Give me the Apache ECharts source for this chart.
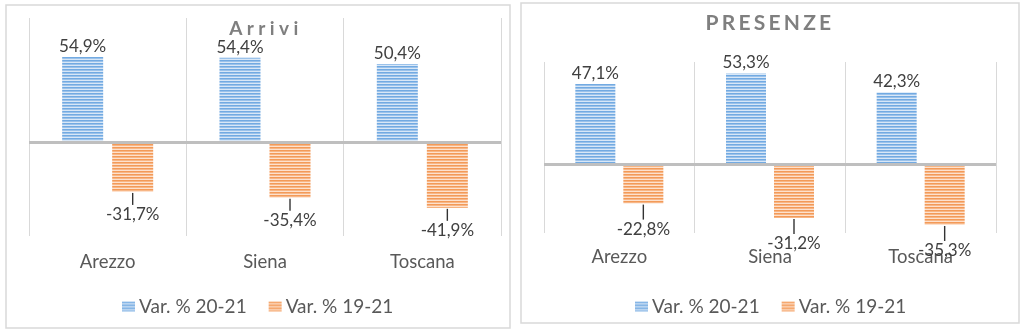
<!DOCTYPE html>
<html>
<head>
<meta charset="utf-8">
<script src="https://cdn.jsdelivr.net/npm/echarts@6/dist/echarts.min.js"></script>
<style>
  html, body { margin: 0; padding: 0; background: #fff; }
  #chart { width: 1024px; height: 331px; }
</style>
</head>
<body>
<div id="chart"></div>
<script>
// Percentage change of tourist arrivals and nights (presenze)
const categories = ['Arezzo', 'Siena', 'Toscana'];
const seriesNames = ['Var. % 20-21', 'Var. % 19-21'];
const arriviVar2021 = [54.9, 54.4, 50.4];
const arriviVar1921 = [-31.7, -35.4, -41.9];
const presenzeVar2021 = [47.1, 53.3, 42.3];
const presenzeVar1921 = [-22.8, -31.2, -35.3];
const arriviRange = [-60, 80];
const presenzeRange = [-40, 60];
const titles = ['Arrivi', 'PRESENZE'];

const FONT = 'Lato, "Noto Sans", sans-serif';
const TEXT = '#404040';
const AXIS_TEXT = '#595959';

// horizontal striped fill used by the bars and the legend icons
function stripes(dark, light) {
  const c = document.createElement('canvas');
  c.width = 8; c.height = 3;
  const ctx = c.getContext('2d');
  ctx.fillStyle = light;
  ctx.fillRect(0, 0, 8, 3);
  ctx.fillStyle = dark;
  ctx.fillRect(0, 0, 8, 1.6);
  return { image: c, repeat: 'repeat' };
}
const bluePattern = stripes('#72aae2', '#d8e7f7');
const orangePattern = stripes('#f39a58', '#fde1cd');

const pct = v => v.toFixed(1).replace('.', ',') + '%';

// spaced-out title letters
function spaced(str) {
  return str.split('').map(ch => '{t|' + ch + '}').join('');
}

function titleOpt(text, left, top, size, gap) {
  return {
    text: spaced(text),
    left: left, top: top, padding: 0,
    textStyle: {
      rich: { t: { fontFamily: FONT, fontWeight: 'bold', fontSize: size, color: '#7f7f7f', padding: [0, gap] } }
    }
  };
}

function legendOpt(left) {
  return {
    data: seriesNames,
    left: left, top: 292,
    itemWidth: 13, itemHeight: 10, itemGap: 22,
    icon: 'rect',
    textStyle: { fontFamily: FONT, fontSize: 19, color: AXIS_TEXT, padding: [0, 0, 0, -1] }
  };
}

function xAxisOpt(gridIndex, margin) {
  return {
    type: 'category', gridIndex: gridIndex, data: categories,
    axisLine: { show: false }, axisTick: { show: false },
    axisLabel: { fontFamily: FONT, fontSize: 18.5, color: AXIS_TEXT, margin: margin },
    splitLine: { show: true, lineStyle: { color: '#d9d9d9', width: 1 } }
  };
}

function yAxisOpt(gridIndex, range) {
  return { type: 'value', gridIndex: gridIndex, min: range[0], max: range[1], show: false, splitLine: { show: false } };
}

function posSeries(name, data, idx, barWidth, gap) {
  return {
    name: name, type: 'bar', xAxisIndex: idx, yAxisIndex: idx,
    data: data, barWidth: barWidth, barGap: gap,
    itemStyle: { color: bluePattern },
    label: { show: true, position: 'top', distance: 2, formatter: p => pct(p.value),
             fontFamily: FONT, fontSize: 17, color: TEXT },
    markLine: {
      silent: true, symbol: 'none', label: { show: false },
      lineStyle: { color: '#bfbfbf', width: 3, type: 'solid' },
      data: [{ yAxis: 0 }]
    },
    z: 2
  };
}

function negSeries(name, data, idx, barWidth, gap, lead) {
  return {
    name: name, type: 'bar', xAxisIndex: idx, yAxisIndex: idx,
    data: data, barWidth: barWidth, barGap: gap,
    itemStyle: { color: orangePattern },
    label: {
      show: true, position: 'bottom', distance: 1, align: 'center',
      formatter: p => '{l| }\n{v|' + pct(p.value) + '}',
      rich: {
        l: { width: 1.4, height: lead, fontSize: 4, backgroundColor: '#333333', align: 'center' },
        v: { fontFamily: FONT, fontSize: 17, color: TEXT, align: 'center', lineHeight: 20 }
      }
    },
    z: 2
  };
}

const chart = echarts.init(document.getElementById('chart'));
chart.setOption({
  backgroundColor: '#ffffff',
  animation: false,
  title: [ titleOpt(titles[0], 227, 19, 19, 2.2), titleOpt(titles[1], 704, 13, 21, 1.6) ],
  legend: [ legendOpt(117), legendOpt(630) ],
  grid: [
    { left: 29, right: 1024 - 501, top: 18, height: 218 },
    { left: 544, right: 1024 - 996, top: 62, height: 171 }
  ],
  xAxis: [ xAxisOpt(0, 17), xAxisOpt(1, 15) ],
  yAxis: [ yAxisOpt(0, arriviRange), yAxisOpt(1, presenzeRange) ],
  series: [
    posSeries(seriesNames[0], arriviVar2021, 0, 41, '22%'),
    negSeries(seriesNames[1], arriviVar1921, 0, 41, '22%', 12),
    posSeries(seriesNames[0], presenzeVar2021, 1, 40, '20%'),
    negSeries(seriesNames[1], presenzeVar1921, 1, 40, '20%', 15)
  ],
  graphic: [
    { type: 'rect', shape: { x: 6, y: 5, width: 504, height: 323 }, style: { fill: 'none', stroke: '#d9d9d9', lineWidth: 1.5 }, silent: true },
    { type: 'rect', shape: { x: 521, y: 3, width: 498, height: 320 }, style: { fill: 'none', stroke: '#d9d9d9', lineWidth: 1.5 }, silent: true }
  ]
});
</script>
</body>
</html>
